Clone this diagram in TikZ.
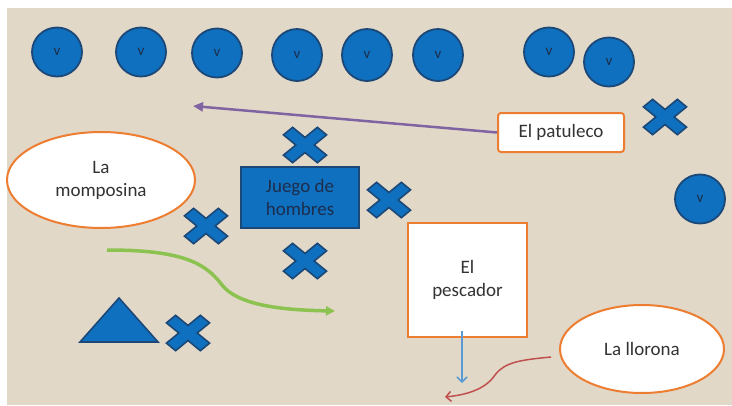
\documentclass[tikz,border=0pt]{standalone}
\usepackage{fontspec}
\setmainfont{Carlito}
\usetikzlibrary{shapes.geometric,arrows.meta}
\definecolor{fondo}{RGB}{226,216,200}
\definecolor{azul}{RGB}{14,112,190}
\definecolor{borde}{RGB}{28,72,120}
\definecolor{tinta}{RGB}{30,45,75}
\definecolor{naranja}{RGB}{237,125,49}
\definecolor{morado}{RGB}{128,100,162}
\definecolor{verde}{RGB}{140,195,80}
\definecolor{celeste}{RGB}{91,155,213}
\definecolor{rojo}{RGB}{192,80,77}
\tikzset{
  ficha/.style={ellipse, fill=azul, draw=borde, line width=1.8pt, minimum width=50pt,
    minimum height=49pt, inner sep=0pt, text=tinta, font=\fontsize{15}{17}\selectfont},
  nube/.style={ellipse, fill=white, draw=naranja, line width=2pt, align=center,
    text=black!80, font=\fontsize{19}{23}\selectfont},
  caja/.style={rectangle, fill=white, draw=naranja, line width=2pt, align=center,
    text=black!80, font=\fontsize{19}{23}\selectfont},
  juego/.style={rectangle, fill=azul, draw=borde, line width=1.6pt, align=center,
    text=tinta, font=\fontsize{19}{23}\selectfont},
  pics/cruz/.style={code={
    \filldraw[fill=azul, draw=borde, line width=1.6pt, yscale=0.82, rotate=45]
      (6.5,24) -- (6.5,6.5) -- (24,6.5) -- (24,-6.5) -- (6.5,-6.5) -- (6.5,-24)
      -- (-6.5,-24) -- (-6.5,-6.5) -- (-24,-6.5) -- (-24,6.5) -- (-6.5,6.5)
      -- (-6.5,24) -- cycle;
  }}
}
\begin{document}
\begin{tikzpicture}[x=1pt,y=-1pt]
  \useasboundingbox (0,0) rectangle (732,405);
  \fill[white] (0,0) rectangle (732,405);
  \fill[fondo] (7,8) rectangle (732,405);

  % fichas de arriba
  \node[ficha] (v1) at (57,52) {v};
  \node[ficha] (v2) at (141,52) {v};
  \node[ficha] (v3) at (217,53) {v};
  \node[ficha, minimum height=52pt] (v4) at (297,55) {v};
  \node[ficha, minimum height=52pt] (v5) at (367,55) {v};
  \node[ficha, minimum height=52pt] (v6) at (438,55) {v};
  \node[ficha] (v7) at (549,52) {v};
  \node[ficha] (v8) at (609,62) {v};
  \node[ficha] (v9) at (700,199) {v};

  % cruces
  \pic at (305,145) {cruz};
  \pic at (389,200) {cruz};
  \pic at (206,226) {cruz};
  \pic at (305,261) {cruz};
  \pic at (188,333) {cruz};
  \pic at (665,117) {cruz};

  \filldraw[fill=azul, draw=borde, line width=1.6pt] (80,342) -- (119,298) -- (158,342) -- cycle;

  \node[nube, minimum width=188pt, minimum height=96pt] (momposina) at (101,180) {La\\momposina};
  \node[juego, minimum width=118pt, minimum height=61pt] (hombres) at (300,197.5) {Juego de\\hombres};
  \node[caja, rounded corners=3pt, minimum width=126pt, minimum height=39pt] (patuleco) at (561,132.5) {El patuleco};
  \node[caja, minimum width=119pt, minimum height=114pt] (pescador) at (467.5,280) {El\\pescador};
  \node[nube, minimum width=164pt, minimum height=88pt] (llorona) at (642,349) {La llorona};

  % flechas
  \coordinate (pmorada) at (193,106);
  \coordinate (verde1) at (107,250);
  \coordinate (verde2) at (335,311);
  \coordinate (pazul) at (462,383);
  \coordinate (projo) at (445,397);
  \draw[morado, line width=2.5pt, -{Triangle[length=10pt,width=9pt]}] (patuleco.west) -- (pmorada);
  \draw[verde, line width=3.5pt, -{Triangle[length=9pt,width=9pt]}] (verde1)
    .. controls (180,250) and (205,262) .. (222,285)
    .. controls (238,305) and (280,310) .. (verde2);
  \draw[celeste, line width=1.5pt, -{Straight Barb[length=5pt,width=10pt]}]
    ([xshift=-5.5pt,yshift=7pt]pescador.south) -- (pazul);
  \draw[rojo, line width=1.5pt, -{Straight Barb[length=5pt,width=10pt]}]
    ([shift={(-8pt,-8pt)}]llorona.west) .. controls (520,360) and (505,362) .. (495,375)
    .. controls (485,390) and (465,395) .. (projo);
\end{tikzpicture}
\end{document}
